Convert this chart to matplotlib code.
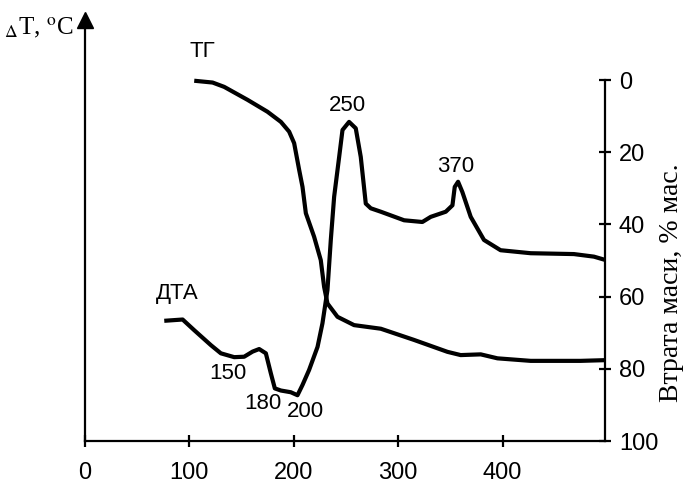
import matplotlib.pyplot as plt

plt.rcParams['font.family'] = ['Liberation Sans', 'DejaVu Sans']
plt.rcParams['mathtext.fontset'] = 'stix'

# DTA curve (arbitrary units) vs temperature, C
dta_t = [75.9, 93.5, 104.6, 120.6, 130.1, 142.9, 152.4, 160.5, 166.8, 173.2, 178, 181.8,
         187.6, 197.1, 203.5, 208.3, 214.6, 222.7, 227.4, 232.2, 235.4, 238.6, 243.4,
         246.6, 252.9, 259.3, 264.1, 268.9, 273.7, 283.3, 305.6, 323.1, 331.1, 345.5,
         351.9, 354.1, 357.3, 361.4, 369.4, 382.1, 398, 426.8, 468.2, 487.4, 498.6]
dta_v = [28.1, 28.4, 25.9, 22.4, 20.5, 19.6, 19.7, 20.9, 21.5, 20.5, 15.8, 12.3,
         11.8, 11.4, 10.7, 13.1, 16.6, 22, 27.5, 35.3, 47, 57.1, 66.4,
         72.7, 74.6, 73.1, 66.4, 55.5, 54.4, 53.6, 51.6, 51.2, 52.4, 53.6,
         55.1, 59.4, 60.6, 58.2, 52.4, 47, 44.6, 43.9, 43.7, 43.1, 42.3]

# TG curve: mass loss, % vs temperature, C
tg_t = [104.6, 122.2, 133.3, 155.7, 174.8, 187.6, 195.5, 200.3, 205.1, 208.3, 211.5,
        219.4, 225.8, 229, 232.2, 241.8, 257.7, 283.3, 315.1, 347.1, 359.8, 379, 395,
        426.8, 474.6, 498.6]
tg_v = [0.2, 0.7, 1.9, 5.5, 8.8, 11.6, 14.3, 17.5, 24.9, 29.6, 36.9,
        43.4, 49.9, 57.3, 61.9, 65.6, 67.9, 68.9, 72, 75.3, 76.2, 76, 77.1,
        77.8, 77.8, 77.6]

x_ticks = [0, 100, 200, 300, 400]
tg_ticks = [0, 20, 40, 60, 80, 100]

# peak labels: (text, T, DTA units)
peaks = [('150', 136.5, 15.8), ('180', 170, 8.8), ('200', 211.5, 6.8),
         ('250', 251.4, 78.5), ('370', 355, 64.1)]

fig = plt.figure(figsize=(6.85, 4.9), dpi=100)
ax = fig.add_axes([0.1241, 0.1, 0.7591, 0.859])
ax2 = ax.twinx()

lw = 3.0
ax.plot(dta_t, dta_v, color='black', lw=lw, solid_capstyle='butt', solid_joinstyle='round')
ax2.plot(tg_t, tg_v, color='black', lw=lw, solid_capstyle='butt', solid_joinstyle='round')

ax.set_xlim(0, 498)
ax.set_ylim(0, 98.4)
ax2.set_ylim(100, -16.6)

for s in ['top', 'right']:
    ax.spines[s].set_visible(False)
for s in ['top', 'left', 'bottom']:
    ax2.spines[s].set_visible(False)
ax.spines['left'].set_linewidth(1.6)
ax.spines['bottom'].set_linewidth(1.6)
ax2.spines['right'].set_linewidth(1.6)
ax2.spines['right'].set_bounds(0, 100)

# arrow head on the left axis
ax.plot(0, 1, marker='^', color='black', markersize=11, transform=ax.transAxes, clip_on=False)

ax.set_yticks([])
ax.set_xticks(x_ticks)
ax.tick_params(axis='x', direction='inout', length=8, width=1.6, labelsize=17, pad=11)
ax2.set_yticks(tg_ticks)
ax2.tick_params(axis='y', direction='inout', length=8, width=1.6, labelsize=17, pad=6)

ax.text(-11.5, 96.5, r'$_{\Delta}$T, $^{\rm o}$C', fontsize=18, ha='right', va='center',
        fontfamily='Liberation Serif')
fig.text(671 / 685, 1 - 283 / 490, 'Втрата маси, % мас.', rotation=90, fontsize=20,
         fontfamily='Liberation Serif', ha='center', va='center')

ax.text(112.6, 91.0, 'ТГ', fontsize=16, ha='center', va='center')
ax.text(88.7, 34.5, 'ДТА', fontsize=16, ha='center', va='center')
for lbl, t, v in peaks:
    ax.text(t, v, lbl, fontsize=16, ha='center', va='center')

fig.savefig('out.png', dpi=100)
